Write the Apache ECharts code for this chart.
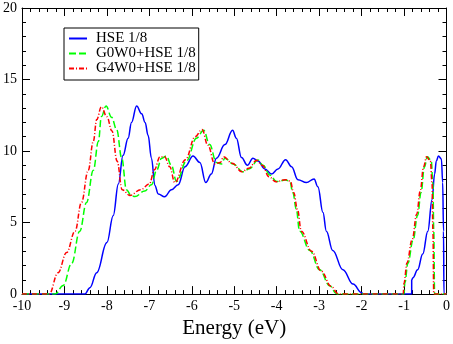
<!DOCTYPE html>
<html>
<head>
<meta charset="utf-8">
<script src="https://cdn.jsdelivr.net/npm/echarts@6/dist/echarts.min.js"></script>
<style>
  html, body { margin: 0; padding: 0; background: #fff; }
  #chart { width: 453px; height: 344px; }
</style>
</head>
<body>
<div id="chart"></div>
<script>
// energy (eV) and DOS values
var hseE = [-10, -8.52, -8.4, -8.24, -8.0, -7.85, -7.73, -7.62, -7.5, -7.42, -7.3, -7.18, -7.1, -7.03, -6.95, -6.87, -6.79, -6.64, -6.48, -6.32, -6.16, -5.97, -5.81, -5.67, -5.54, -5.42, -5.22, -5.04, -4.95, -4.83, -4.69, -4.56, -4.44, -4.28, -4.12, -3.97, -3.79, -3.65, -3.5, -3.3, -3.12, -3.03, -2.91, -2.83, -2.68, -2.44, -2.2, -2.0, -1.95, -0.82, -0.82, -0.79, -0.68, -0.56, -0.44, -0.34, -0.28, -0.24, -0.19, -0.12, -0.09, -0.07, -0.06, 0];
var hseDos = [0, 0, 0.45, 1.5, 3.6, 5.5, 7.7, 9.7, 10.9, 12.0, 13.15, 12.6, 12.0, 11.1, 9.5, 7.6, 7.0, 6.8, 7.3, 7.65, 8.9, 9.65, 9.2, 7.8, 8.4, 9.5, 10.45, 11.45, 10.9, 9.55, 9.0, 9.5, 9.3, 8.75, 8.4, 8.75, 9.4, 8.9, 8.0, 7.8, 8.05, 7.5, 5.7, 4.4, 3.05, 1.7, 0.7, 0.1, 0, 0, 1.0, 1.15, 1.7, 2.8, 4.4, 6.6, 8.4, 9.3, 9.65, 9.45, 7.8, 4.4, 0, 0];

var g0E = [-10, -9.22, -9.03, -8.83, -8.64, -8.48, -8.32, -8.2, -8.13, -8.02, -7.89, -7.77, -7.65, -7.54, -7.42, -7.34, -7.11, -6.95, -6.83, -6.71, -6.6, -6.48, -6.36, -6.12, -5.89, -5.72, -5.58, -5.42, -5.3, -5.22, -5.03, -4.79, -4.64, -4.44, -4.32, -4.16, -4.0, -3.79, -3.69, -3.62, -3.54, -3.46, -3.22, -2.99, -2.75, -2.6, -2.55, -1.0, -0.98, -0.91, -0.79, -0.68, -0.6, -0.52, -0.45, -0.36, -0.32, -0.3, -0.28, 0];
var g0Dos = [0, 0, 0.6, 2.15, 4.4, 6.4, 8.65, 10.67, 12.4, 13.15, 12.36, 11.5, 9.5, 7.3, 6.85, 6.82, 7.2, 7.64, 8.65, 9.5, 9.65, 9.0, 7.87, 9.33, 10.9, 11.45, 10.45, 9.2, 9.1, 9.5, 9.1, 8.55, 8.77, 9.37, 9.0, 8.32, 7.87, 7.98, 7.87, 7.1, 5.96, 4.4, 3.05, 1.7, 0.58, 0.05, 0, 0, 0.8, 2.15, 3.72, 5.52, 7.1, 8.88, 9.6, 9.33, 7.76, 4.4, 0, 0];

var g4E = [-10, -9.36, -9.15, -8.95, -8.75, -8.6, -8.44, -8.32, -8.24, -8.13, -8.0, -7.88, -7.76, -7.64, -7.46, -7.2, -7.0, -6.88, -6.75, -6.64, -6.52, -6.4, -6.15, -5.92, -5.76, -5.62, -5.46, -5.33, -5.25, -5.05, -4.82, -4.66, -4.47, -4.34, -4.18, -4.02, -3.8, -3.68, -3.6, -3.51, -3.42, -3.18, -2.95, -2.72, -2.56, -2.5, -1.02, -1.0, -0.93, -0.81, -0.7, -0.62, -0.54, -0.47, -0.38, -0.34, -0.32, -0.3, 0];
var g4Dos = [0, 0, 1.5, 2.9, 4.4, 6.4, 8.65, 10.67, 12.2, 13.1, 12.4, 11.4, 9.3, 7.3, 6.9, 7.3, 7.7, 8.7, 9.6, 9.6, 8.9, 7.8, 9.4, 11.0, 11.5, 10.4, 9.1, 9.2, 9.6, 9.15, 8.55, 8.8, 9.35, 9.0, 8.2, 7.85, 8.0, 7.9, 7.1, 5.9, 4.4, 3.0, 1.6, 0.55, 0.05, 0, 0, 0.8, 2.2, 3.8, 5.6, 7.2, 8.9, 9.6, 9.3, 7.7, 4.4, 0, 0];

var seriesNames = ["HSE 1/8", "G0W0+HSE 1/8", "G4W0+HSE 1/8"];
var xTitle = "Energy (eV)";

function pairs(xs, ys) {
  var out = [];
  for (var i = 0; i < xs.length; i++) out.push([xs[i], ys[i]]);
  return out;
}

var font = "'Liberation Serif', 'DejaVu Serif', serif";

var chart = echarts.init(document.getElementById("chart"));

function axisCommon(showLabel) {
  return {
    type: "value",
    axisLine: { show: true, onZero: false, lineStyle: { color: "#000", width: 1 } },
    axisTick: { show: true, inside: true, length: 8, lineStyle: { color: "#000" } },
    minorTick: { show: true, splitNumber: 5, length: 4, lineStyle: { color: "#000" } },
    splitLine: { show: false },
    axisLabel: { show: showLabel, color: "#000", fontFamily: font, fontSize: 14, margin: 5 }
  };
}

var xBottom = Object.assign(axisCommon(true), {
  position: "bottom", min: -10, max: 0, interval: 1,
  name: xTitle, nameLocation: "middle", nameGap: 13,
  nameTextStyle: { color: "#000", fontFamily: font, fontSize: 21 }
});
xBottom.axisLabel.showMinLabel = true;
xBottom.axisLabel.showMaxLabel = true;
var xTop = Object.assign(axisCommon(false), { position: "top", min: -10, max: 0, interval: 1 });
var yLeft = Object.assign(axisCommon(true), { position: "left", min: 0, max: 20, interval: 5 });
var yRight = Object.assign(axisCommon(false), { position: "right", min: 0, max: 20, interval: 5 });

var option = {
  backgroundColor: "#fff",
  animation: false,
  grid: { left: 22, right: 6, top: 8, bottom: 39 },
  legend: {
    data: seriesNames,
    orient: "vertical",
    left: 64,
    top: 28,
    itemWidth: 18,
    itemHeight: 14,
    itemGap: 0,
    padding: [3, 3, 4, 4],
    borderColor: "#000",
    borderWidth: 1,
    itemStyle: { opacity: 0 },
    textStyle: { color: "#000", fontFamily: font, fontSize: 15, padding: [0, 0, 0, 4] }
  },
  xAxis: [xBottom, xTop],
  yAxis: [yLeft, yRight],
  series: [
    {
      name: seriesNames[0], type: "line", showSymbol: false, symbol: "none",
      smooth: 0.4, smoothMonotone: "x",
      lineStyle: { color: "#0000ff", width: 1.5, type: "solid" },
      itemStyle: { color: "#0000ff" },
      data: pairs(hseE, hseDos)
    },
    {
      name: seriesNames[1], type: "line", showSymbol: false, symbol: "none",
      smooth: 0.4, smoothMonotone: "x",
      lineStyle: { color: "#00ff00", width: 1.5, type: [7, 3] },
      itemStyle: { color: "#00ff00" },
      data: pairs(g0E, g0Dos)
    },
    {
      name: seriesNames[2], type: "line", showSymbol: false, symbol: "none",
      smooth: 0.4, smoothMonotone: "x",
      lineStyle: { color: "#ff0000", width: 1.5, type: [5, 2, 1, 2] },
      itemStyle: { color: "#ff0000" },
      data: pairs(g4E, g4Dos)
    }
  ]
};

chart.setOption(option);
</script>
</body>
</html>
